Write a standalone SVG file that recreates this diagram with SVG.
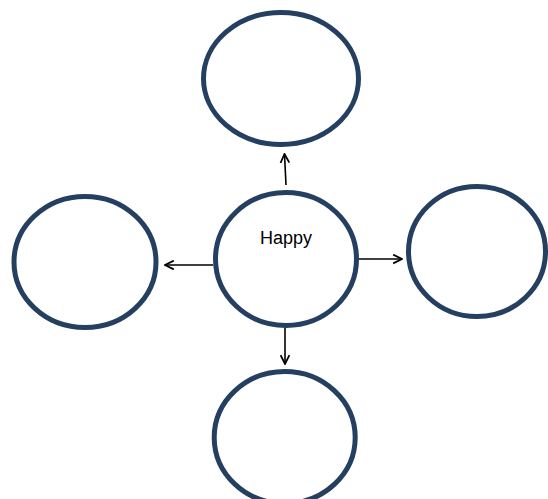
<svg xmlns="http://www.w3.org/2000/svg" width="548" height="499" viewBox="0 0 548 499">
<style>
.node{fill:#fff;stroke:#243F60;stroke-width:5}
.conn{stroke:#000;stroke-width:1.6;fill:none;marker-end:url(#ah)}
.lbl{font-family:"Liberation Sans",Arial,sans-serif;font-size:18px;fill:#000}
</style>
<defs>
<marker id="ah" viewBox="0 0 10 10" refX="9" refY="5" markerWidth="11" markerHeight="11" markerUnits="userSpaceOnUse" orient="auto">
<polyline points="1,1 9,5 1,9" fill="none" stroke="#000" stroke-width="1.6"/>
</marker>
</defs>
<rect width="548" height="499" fill="#fff"/>
<g id="connectors">
<line class="conn" x1="286" y1="185" x2="284.5" y2="154"/>
<line class="conn" x1="359" y1="259" x2="402" y2="259"/>
<line class="conn" x1="285" y1="328" x2="285" y2="364"/>
<line class="conn" x1="213" y1="265" x2="165" y2="265"/>
</g>
<g id="top"><ellipse class="node" cx="281" cy="78.5" rx="77.5" ry="66"/></g>
<g id="left"><ellipse class="node" cx="85" cy="262" rx="71" ry="65.5"/></g>
<g id="right"><ellipse class="node" cx="477" cy="251.5" rx="68.5" ry="65"/></g>
<g id="bottom"><ellipse class="node" cx="284.7" cy="437.5" rx="70.5" ry="66"/></g>
<g id="center"><ellipse class="node" cx="286" cy="259" rx="70.5" ry="66.5"/>
<text class="lbl" x="286" y="244" text-anchor="middle">Happy</text></g>
</svg>
